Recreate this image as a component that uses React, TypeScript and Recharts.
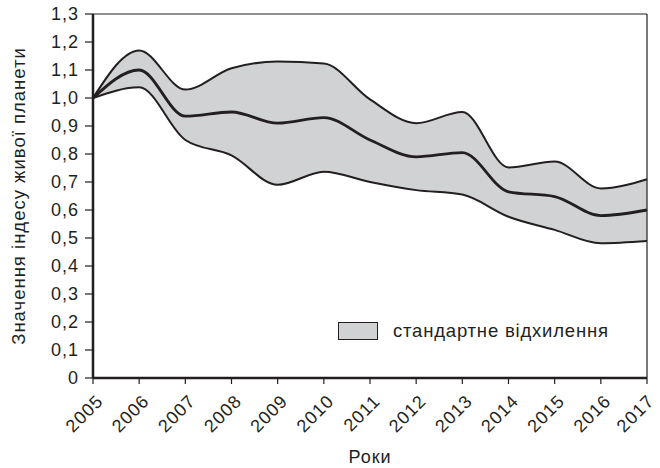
import React from 'react';
import { ComposedChart, Area, Line, XAxis, YAxis, ReferenceLine } from 'recharts';

const years = [2005, 2006, 2007, 2008, 2009, 2010, 2011, 2012, 2013, 2014, 2015, 2016, 2017];
const meanValues = [1.0, 1.1, 0.935, 0.95, 0.91, 0.93, 0.85, 0.79, 0.805, 0.665, 0.648, 0.58, 0.6];
const upperValues = [1.0, 1.17, 1.03, 1.106, 1.13, 1.123, 0.995, 0.91, 0.95, 0.752, 0.773, 0.677, 0.71];
const lowerValues = [1.0, 1.038, 0.85, 0.795, 0.69, 0.737, 0.7, 0.671, 0.655, 0.576, 0.529, 0.481, 0.489];
const yTicks = [0, 0.1, 0.2, 0.3, 0.4, 0.5, 0.6, 0.7, 0.8, 0.9, 1.0, 1.1, 1.2, 1.3];
const legendLabel = 'стандартне відхилення';
const yLabel = 'Значення індесу живої планети';
const xLabel = 'Роки';

const data = years.map((y, i) => ({
  year: y,
  mean: meanValues[i],
  upper: upperValues[i],
  lower: lowerValues[i],
  band: [lowerValues[i], upperValues[i]],
}));

const INK = '#231f20';
const FILL = '#d1d2d4';
const FONT = '"Liberation Sans", Arial, sans-serif';

const fmtY = (v: number) => (v === 0 ? '0' : v.toFixed(1).replace('.', ','));

const XTick = (props: any) => {
  const { x, y, payload } = props;
  return (
    <g transform={`translate(${x + 7},${y + 12})`}>
      <text
        x={0}
        y={0}
        transform="rotate(-45)"
        textAnchor="end"
        dominantBaseline="central"
        fill={INK}
        fontSize={18}
        fontFamily={FONT}
        letterSpacing={1}
      >
        {payload.value}
      </text>
    </g>
  );
};

export default function App() {
  return (
    <div style={{ position: 'absolute', left: 0, top: 0, width: 660, height: 468 }}>
      <ComposedChart
        width={660}
        height={468}
        data={data}
        margin={{ top: 14, right: 13, left: 0, bottom: 0 }}
      >
        <XAxis
          dataKey="year"
          type="number"
          domain={[2005, 2017]}
          ticks={years}
          height={90}
          tickSize={6}
          tick={<XTick />}
          axisLine={{ stroke: INK, strokeWidth: 2.5 }}
          tickLine={{ stroke: INK, strokeWidth: 1.2 }}
          label={{ value: xLabel, position: 'insideBottom', offset: 5, fill: INK, fontSize: 18, fontFamily: FONT, letterSpacing: 1 }}
        />
        <YAxis
          type="number"
          domain={[0, 1.3]}
          ticks={yTicks}
          width={93}
          tickSize={8}
          tickMargin={6}
          tickFormatter={fmtY}
          tick={{ fill: INK, fontSize: 18, fontFamily: FONT, letterSpacing: 1 }}
          axisLine={{ stroke: INK, strokeWidth: 2.5 }}
          tickLine={{ stroke: INK, strokeWidth: 1.2 }}
          label={{ value: yLabel, angle: -90, position: 'center', dx: -28, fill: INK, fontSize: 18.5, fontFamily: FONT, letterSpacing: 1 }}
        />
        <ReferenceLine y={1.3} stroke={INK} strokeWidth={1.2} />
        <ReferenceLine x={2017} stroke={INK} strokeWidth={1.2} />
        <Area
          dataKey="band"
          type="monotone"
          fill={FILL}
          fillOpacity={1}
          stroke="none"
          isAnimationActive={false}
        />
        <Line dataKey="upper" type="monotone" stroke={INK} strokeWidth={2} dot={false} isAnimationActive={false} />
        <Line dataKey="lower" type="monotone" stroke={INK} strokeWidth={2} dot={false} isAnimationActive={false} />
        <Line dataKey="mean" type="monotone" stroke={INK} strokeWidth={2.8} dot={false} isAnimationActive={false} />
      </ComposedChart>
      <div
        style={{
          position: 'absolute',
          left: 338,
          top: 322,
          display: 'flex',
          alignItems: 'center',
          fontFamily: FONT,
          fontSize: 18.5,
          color: INK,
          letterSpacing: 0.8,
          whiteSpace: 'nowrap',
          lineHeight: '18px',
        }}
      >
        <div style={{ width: 38, height: 16, background: FILL, border: `1.5px solid ${INK}`, marginRight: 15 }} />
        <span>{legendLabel}</span>
      </div>
    </div>
  );
}
